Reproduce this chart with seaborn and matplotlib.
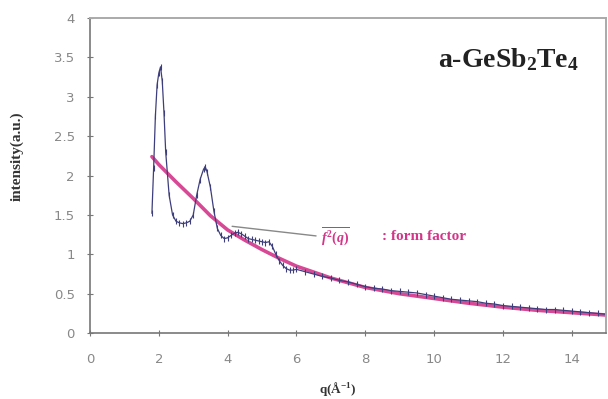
import numpy as np
import pandas as pd
import matplotlib
matplotlib.use("Agg")
import matplotlib.pyplot as plt
import seaborn as sns

# measured intensity I(q)
q_meas = [1.80, 1.85, 1.90, 1.95, 2.00, 2.05, 2.10, 2.15, 2.20, 2.30, 2.40, 2.50,
          2.60, 2.70, 2.80, 2.90, 3.00, 3.10, 3.20, 3.30, 3.35, 3.40, 3.50, 3.60,
          3.70, 3.80, 3.90, 4.00, 4.10, 4.20, 4.30, 4.40, 4.50, 4.60, 4.70, 4.80,
          4.90, 5.00, 5.10, 5.20, 5.30, 5.40, 5.50, 5.60, 5.70, 5.80, 5.90, 6.00,
          6.25, 6.50, 6.75, 7.00, 7.25, 7.50, 7.75, 8.00, 8.25, 8.50, 8.75, 9.00,
          9.25, 9.50, 9.75, 10.0, 10.25, 10.5, 10.75, 11.0, 11.25, 11.5, 11.75, 12.0,
          12.25, 12.5, 12.75, 13.0, 13.25, 13.5, 13.75, 14.0, 14.25, 14.5, 14.75, 15.0]
i_meas = [1.52, 2.10, 2.75, 3.15, 3.30, 3.38, 3.20, 2.80, 2.30, 1.75, 1.50, 1.42,
          1.40, 1.39, 1.40, 1.42, 1.50, 1.75, 1.95, 2.08, 2.11, 2.05, 1.85, 1.55,
          1.33, 1.24, 1.20, 1.21, 1.24, 1.27, 1.28, 1.26, 1.23, 1.20, 1.19, 1.18,
          1.17, 1.16, 1.15, 1.16, 1.10, 1.00, 0.92, 0.86, 0.82, 0.80, 0.80, 0.81,
          0.78, 0.75, 0.72, 0.70, 0.67, 0.65, 0.62, 0.59, 0.57, 0.56, 0.54, 0.53,
          0.52, 0.51, 0.49, 0.47, 0.45, 0.43, 0.42, 0.41, 0.40, 0.38, 0.37, 0.35,
          0.34, 0.33, 0.32, 0.31, 0.30, 0.30, 0.29, 0.28, 0.27, 0.26, 0.25, 0.24]

# form factor f^2(q)
q_ff = [1.8, 2.0, 2.5, 3.0, 3.5, 4.0, 4.5, 5.0, 5.5, 6.0, 7.0, 8.0, 9.0, 10.0,
        11.0, 12.0, 13.0, 14.0, 15.0]
i_ff = [2.24, 2.14, 1.92, 1.71, 1.49, 1.31, 1.18, 1.06, 0.95, 0.85, 0.70, 0.58,
        0.50, 0.44, 0.38, 0.33, 0.29, 0.26, 0.23]

x_ticks = [0, 2, 4, 6, 8, 10, 12, 14]
y_ticks = [0, 0.5, 1, 1.5, 2, 2.5, 3, 3.5, 4]
y_tick_labels = ["0", "0.5", "1", "1.5", "2", "2.5", "3", "3.5", "4"]

meas = pd.DataFrame({"q": q_meas, "I": i_meas})
ff = pd.DataFrame({"q": q_ff, "I": i_ff})

sns.set_style("ticks")
plt.rcParams["mathtext.fontset"] = "custom"
plt.rcParams["mathtext.rm"] = "Liberation Serif:bold"
plt.rcParams["mathtext.it"] = "Liberation Serif:bold:italic"
plt.rcParams["mathtext.bf"] = "Liberation Serif:bold"

fig = plt.figure(figsize=(6.08, 3.99), dpi=100)
ax = fig.add_axes([0.148, 0.165, 0.849, 0.79])

magenta = "#d4358a"
navy = "#3e3e7c"
sns.lineplot(data=ff, x="q", y="I", ax=ax, color=magenta, linewidth=2.6, alpha=0.9)
sns.lineplot(data=meas, x="q", y="I", ax=ax, color=navy, linewidth=0.9,
             marker="|", markersize=4, markeredgewidth=0.8,
             markeredgecolor=navy)

# annotation for the form factor
ax.annotate("", xy=(4.05, 1.36), xytext=(6.65, 1.23),
            arrowprops=dict(arrowstyle="-", color="#888888", lw=1.0))
ax.text(6.7, 1.23, r"$\overline{f^2(q)}$", color=magenta, fontsize=10,
        ha="left", va="center")
ax.text(8.5, 1.23, ": form factor", color=magenta, fontsize=11,
        family="Liberation Serif", fontweight="bold", ha="left", va="center")

ax.text(14.2, 3.47, r"a-GeSb$_2$Te$_4$", fontsize=20, family="Liberation Serif",
        fontweight="bold", color="#222222", ha="right", va="center")

ax.set_xlim(0, 15)
ax.set_ylim(0, 4)
ax.set_xticks(x_ticks)
ax.set_xticklabels([str(t) for t in x_ticks])
ax.set_yticks(y_ticks)
ax.set_yticklabels(y_tick_labels)
ax.tick_params(direction="inout", length=4, width=0.8, color="#777777",
               labelcolor="#888888", labelsize=9.5)
ax.tick_params(axis="x", pad=12)
ax.tick_params(axis="y", pad=9)

ax.set_xlabel("q(Å$^{-1}$)", family="Liberation Serif", fontweight="bold",
              fontsize=9.5, color="#333333")
ax.xaxis.set_label_coords(0.48, -0.147)
ax.set_ylabel("intensity(a.u.)", family="Liberation Serif", fontweight="bold",
              fontsize=11, color="#333333")
ax.yaxis.set_label_coords(-0.128, 0.56)

for side in ["left", "bottom"]:
    ax.spines[side].set_color("#777777")
    ax.spines[side].set_linewidth(1.2)
for side in ["top", "right"]:
    ax.spines[side].set_visible(True)
    ax.spines[side].set_color("#aaaaaa")
    ax.spines[side].set_linewidth(1.4)

fig.savefig("out.png", dpi=100)
